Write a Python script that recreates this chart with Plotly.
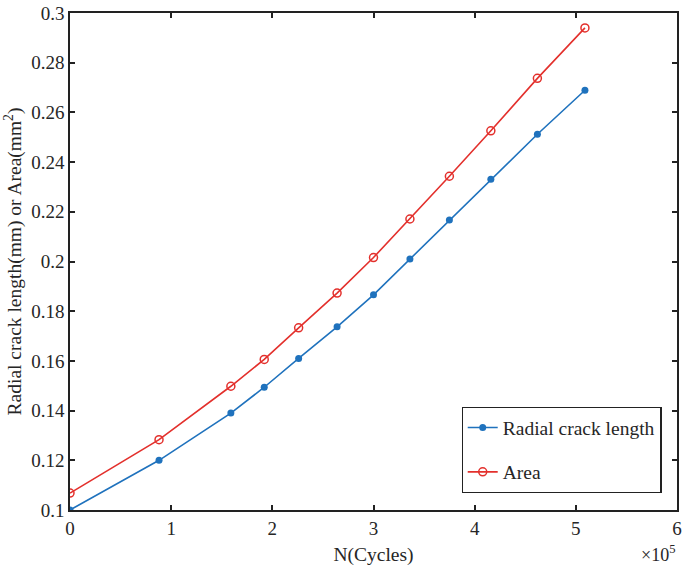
import plotly.graph_objects as go

# cycles in units of 1e5
cycles = [0, 0.88, 1.59, 1.92, 2.26, 2.64, 3.0, 3.36, 3.75, 4.16, 4.62, 5.09]
crack_length = [0.1, 0.12, 0.139, 0.1494, 0.161, 0.1737, 0.1866, 0.201, 0.2167, 0.2331, 0.2512, 0.2689]
crack_area = [0.1068, 0.1283, 0.1498, 0.1606, 0.1733, 0.1873, 0.2016, 0.2171, 0.2343, 0.2526, 0.2737, 0.294]

y_ticks = [0.1, 0.12, 0.14, 0.16, 0.18, 0.2, 0.22, 0.24, 0.26, 0.28, 0.3]
y_labels = ["0.1", "0.12", "0.14", "0.16", "0.18", "0.2", "0.22", "0.24", "0.26", "0.28", "0.3"]

blue = "#1f72bd"
red = "#e3302c"
font = "Liberation Serif, Times New Roman, serif"
txt = "#262626"

fig = go.Figure()
fig.add_scatter(x=cycles, y=crack_length, name="Radial crack length", legendgroup="a",
                mode="lines+markers", line=dict(color=blue, width=1.6),
                marker=dict(symbol="circle", size=7, color=blue))
fig.add_scatter(x=cycles, y=crack_area, name="Area", legendgroup="b",
                mode="lines+markers", line=dict(color=red, width=1.6),
                marker=dict(symbol="circle-open", size=8, color=red, line=dict(width=1.5)))

axis_common = dict(showgrid=False, zeroline=False, showline=True, linecolor="#222", linewidth=1.5,
                   mirror="ticks", ticks="inside", ticklen=5, tickcolor="#222", tickwidth=1.5,
                   ticklabeloverflow="allow",
                   tickfont=dict(family=font, size=19, color=txt))

fig.update_xaxes(range=[0, 6], dtick=1,
                 title=dict(text="N(Cycles)", font=dict(family=font, size=19.5, color=txt), standoff=11),
                 **axis_common)
fig.update_yaxes(range=[0.1, 0.3], tickvals=y_ticks, ticktext=y_labels,
                 title=dict(text="Radial crack length(mm) or Area(mm<sup>2</sup>)",
                            font=dict(family=font, size=19.5, color=txt), standoff=4),
                 **axis_common)

fig.add_annotation(text="\u00d710<sup>5</sup>", xref="paper", yref="paper", x=1.0, y=-0.06,
                   xanchor="right", yanchor="top", showarrow=False,
                   font=dict(family=font, size=18, color=txt))

fig.update_layout(
    width=685, height=566,
    margin=dict(l=70, r=3, t=7, b=56),
    plot_bgcolor="white", paper_bgcolor="white",
    legend=dict(x=0.645, y=0.207, xanchor="left", yanchor="top", bgcolor="white",
                bordercolor="#222", borderwidth=1.2, tracegroupgap=16, traceorder="grouped",
                font=dict(family=font, size=19.5, color=txt)),
)

fig.write_html("out.html", config={"displayModeBar": False},
               post_script="document.body.style.margin='0';")
